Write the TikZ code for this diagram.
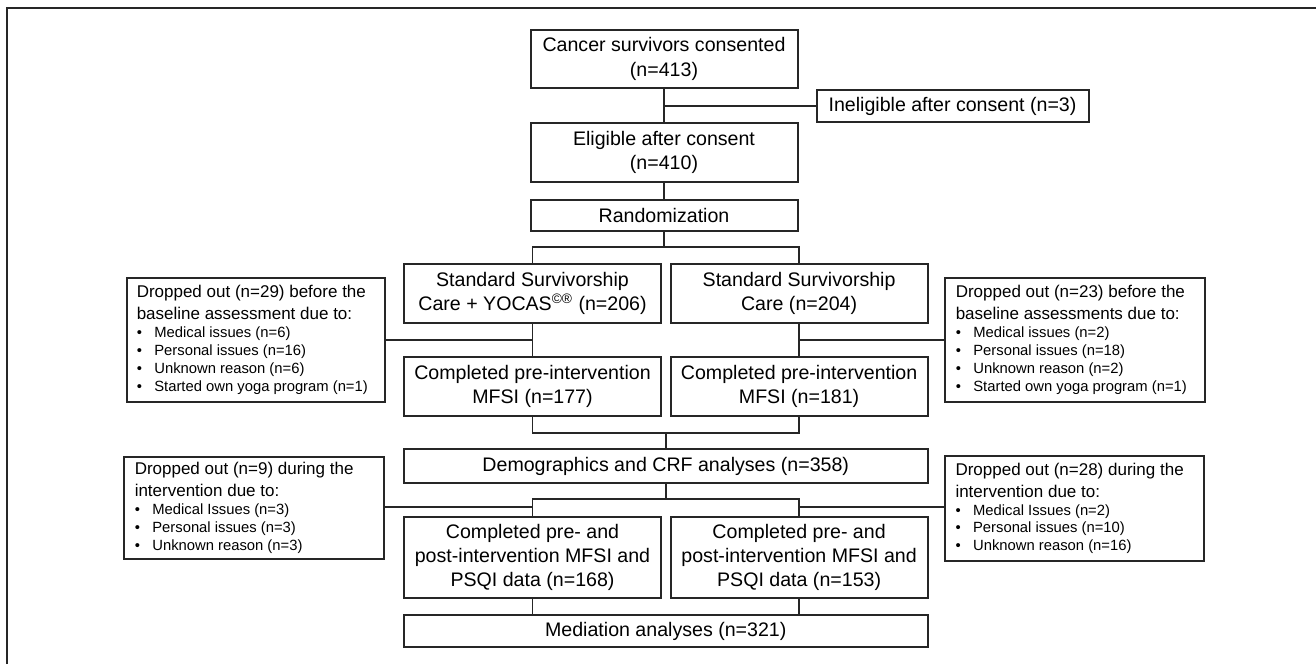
\documentclass[tikz,border=0pt]{standalone}
\usepackage{fontspec}
\setmainfont{Liberation Sans}
\newcommand{\hdr}{\fontsize{8.5}{11}\selectfont}
\newcommand{\itmfont}{\fontsize{7.4}{8.9}\selectfont}
\newcommand{\itm}[1]{\makebox[8.8pt][l]{\textbullet}#1}
\tikzset{
  bx/.style={draw=black!85, line width=1pt, inner sep=0pt, align=center,
    font=\fontsize{9.8}{12.2}\selectfont},
  sz/.style 2 args={minimum width=#1*0.5pt, minimum height=#2*0.5pt},
  conn/.style={draw=black!85, line width=0.85pt},
}
\begin{document}
\begin{tikzpicture}[x=0.5pt,y=-0.5pt]
\useasboundingbox (0,0) rectangle (1316,664);
\draw[line width=1pt, black!85] (7,664) -- (7,8) -- (1316,8);

\node[bx, sz={267}{58}] (b1) at (664,59) {Cancer survivors consented\\(n=413)};
\node[bx, sz={272}{31.5}] (inel) at (952.5,106) {Ineligible after consent (n=3)};
\node[bx, sz={267}{58.2}] (b2) at (664,152.4) {Eligible after consent\\(n=410)};
\node[bx, sz={267}{31}] (rand) at (664,215) {Randomization};

\node[bx, sz={257}{58.7}] (armL) at (532.5,293.4) {Standard Survivorship\\Care + YOCAS\textsuperscript{©®} (n=206)};
\node[bx, sz={257}{58.7}] (armR) at (799.1,293.4) {Standard Survivorship\\Care (n=204)};

\node[bx, sz={258.5}{123.2}] (dl1) at (255.75,339.9) {\begin{minipage}{119pt}\raggedright\hdr Dropped out (n=29) before the\\ baseline assessment due to:\par\itmfont
\itm{Medical issues (n=6)}\\
\itm{Personal issues (n=16)}\\
\itm{Unknown reason (n=6)}\\
\itm{Started own yoga program (n=1)}\end{minipage}};
\node[bx, sz={259.5}{123.2}] (dr1) at (1074.75,339.9) {\begin{minipage}{119pt}\raggedright\hdr Dropped out (n=23) before the\\ baseline assessments due to:\par\itmfont
\itm{Medical issues (n=2)}\\
\itm{Personal issues (n=18)}\\
\itm{Unknown reason (n=2)}\\
\itm{Started own yoga program (n=1)}\end{minipage}};

\node[bx, sz={257}{58.4}] (mL) at (532.5,386.5) {Completed pre-intervention\\MFSI (n=177)};
\node[bx, sz={257}{58.4}] (mR) at (799.1,386.5) {Completed pre-intervention\\MFSI (n=181)};

\node[bx, sz={523.5}{33.4}] (demo) at (665.75,466) {Demographics and CRF analyses (n=358)};

\node[bx, sz={259.5}{102.5}] (dl2) at (253.75,507.75) {\begin{minipage}{119pt}\raggedright\hdr Dropped out (n=9) during the\\ intervention due to:\par\itmfont
\itm{Medical Issues (n=3)}\\
\itm{Personal issues (n=3)}\\
\itm{Unknown reason (n=3)}\end{minipage}};
\node[bx, sz={259}{105.3}] (dr2) at (1074.5,508.35) {\begin{minipage}{119pt}\raggedright\hdr Dropped out (n=28) during the\\ intervention due to:\par\itmfont
\itm{Medical Issues (n=2)}\\
\itm{Personal issues (n=10)}\\
\itm{Unknown reason (n=16)}\end{minipage}};

\node[bx, sz={257}{80.4}] (lL) at (532.5,557.5) {Completed pre- and\\post-intervention MFSI and\\PSQI data (n=168)};
\node[bx, sz={257}{80.4}] (lR) at (799.1,557.5) {Completed pre- and\\post-intervention MFSI and\\PSQI data (n=153)};

\node[bx, sz={523.5}{31.3}] (med) at (665.75,631) {Mediation analyses (n=321)};

% connectors
\coordinate (j1) at (b1.south |- inel.west);
\coordinate (s1) at (664,247);
\coordinate (jl1) at (armL.south |- dl1.east);
\coordinate (jr1) at (armR.south |- dr1.east);
\coordinate (m1) at (demo.north |- 0,433);
\coordinate (s2) at (demo.south |- 0,499.3);
\coordinate (jl2) at (lL.north |- 0,506.7);
\coordinate (jr2) at (lR.north |- 0,506.7);

\draw[conn] (b1.south) -- (b2.north);
\draw[conn] (j1) -- (inel.west);
\draw[conn] (b2.south) -- (rand.north);
\draw[conn] (rand.south) -- (s1);
\draw[conn] (armL.north) |- (s1) -| (armR.north);
\draw[conn] (armL.south) -- (mL.north);
\draw[conn] (armR.south) -- (mR.north);
\draw[conn] (dl1.east) -- (jl1);
\draw[conn] (dr1.west |- jr1) -- (jr1);
\draw[conn] (mL.south) |- (m1) -| (mR.south);
\draw[conn] (m1) -- (demo.north);
\draw[conn] (demo.south) -- (s2);
\draw[conn] (lL.north) |- (s2) -| (lR.north);
\draw[conn] (dl2.east |- jl2) -- (jl2);
\draw[conn] (dr2.west |- jr2) -- (jr2);
\draw[conn] (lL.south) -- (lL.south |- med.north);
\draw[conn] (lR.south) -- (lR.south |- med.north);
\end{tikzpicture}
\end{document}
